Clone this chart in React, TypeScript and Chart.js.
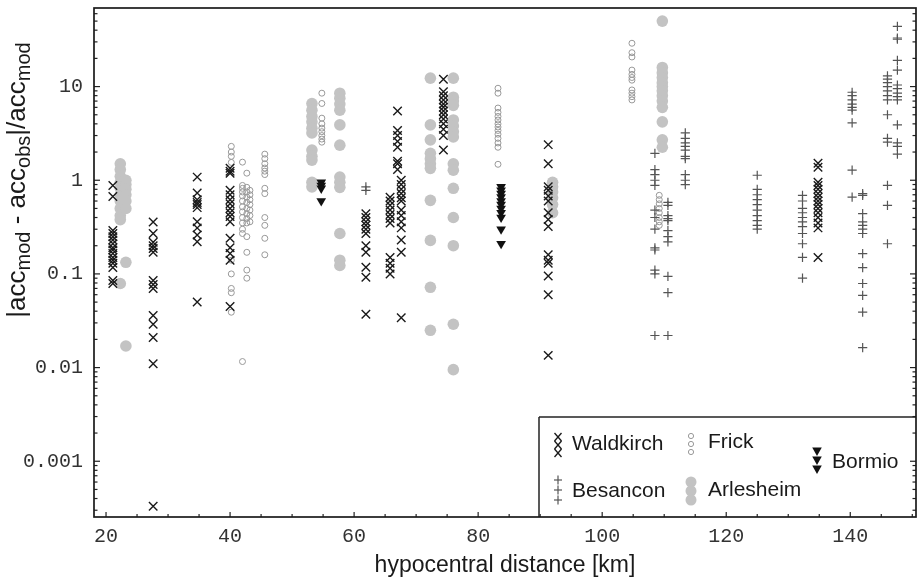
import React, { useEffect, useRef } from 'react';
import { Chart, registerables } from 'chart.js';

Chart.register(...registerables);

// axis ranges
const X_MIN = 18.06;
const X_MAX = 150.6;
const Y_MIN = 2.54e-4;
const Y_MAX = 69;

const X_TICKS = [20, 25, 30, 35, 40, 45, 50, 55, 60, 65, 70, 75, 80, 85, 90, 95, 100, 105, 110, 115, 120, 125, 130, 135, 140, 145, 150];
const X_LABELED = [20, 40, 60, 80, 100, 120, 140];
const Y_DECADES = [0.001, 0.01, 0.1, 1, 10];
const Y_LABELS = ['0.001', '0.01', '0.1', '1', '10'];

type Col = [number, number[]];

// [distance, values at that distance]
const waldkirch: Col[] = [
  [21.1, [0.88, 0.67, 0.29, 0.27, 0.25, 0.23, 0.21, 0.19, 0.18, 0.165, 0.15, 0.14, 0.13, 0.117, 0.085, 0.079]],
  [27.6, [0.358, 0.27, 0.218, 0.2, 0.187, 0.17, 0.085, 0.077, 0.07, 0.036, 0.029, 0.021, 0.011, 0.00033]],
  [34.7, [1.08, 0.73, 0.62, 0.58, 0.55, 0.51, 0.36, 0.31, 0.26, 0.22, 0.05]],
  [40.0, [1.34, 1.25, 1.19, 0.78, 0.7, 0.62, 0.56, 0.5, 0.45, 0.41, 0.36, 0.24, 0.19, 0.165, 0.14, 0.045]],
  [61.9, [0.44, 0.4, 0.36, 0.33, 0.3, 0.27, 0.2, 0.17, 0.118, 0.092, 0.037]],
  [65.8, [0.66, 0.6, 0.54, 0.48, 0.43, 0.39, 0.35, 0.15, 0.13, 0.115, 0.1]],
  [67.0, [5.5, 3.4, 3.0, 2.6, 2.25, 1.6, 1.5, 1.3]],
  [67.6, [1.0, 0.9, 0.8, 0.72, 0.65, 0.6, 0.48, 0.42, 0.36, 0.31, 0.23, 0.17, 0.034]],
  [74.4, [12, 8.8, 8.0, 7.2, 6.5, 6.0, 5.5, 5.0, 4.5, 4.0, 3.5, 3.0, 2.1]],
  [91.3, [2.4, 1.5, 0.85, 0.78, 0.68, 0.6, 0.45, 0.38, 0.32, 0.16, 0.14, 0.13, 0.095, 0.06, 0.0135]],
  [134.8, [1.52, 1.38, 0.95, 0.88, 0.8, 0.72, 0.66, 0.6, 0.55, 0.5, 0.45, 0.4, 0.35, 0.31, 0.15]],
];

const besancon: Col[] = [
  [61.9, [0.85, 0.78]],
  [108.5, [1.94, 1.3, 1.15, 1.0, 0.88, 0.48, 0.4, 0.3, 0.19, 0.18, 0.11, 0.1, 0.022]],
  [110.6, [0.58, 0.54, 0.42, 0.39, 0.37, 0.29, 0.25, 0.22, 0.094, 0.063, 0.022]],
  [113.4, [3.2, 2.8, 2.5, 2.3, 2.1, 1.8, 1.7, 1.15, 1.0, 0.9]],
  [125.0, [1.13, 0.8, 0.7, 0.62, 0.55, 0.48, 0.42, 0.37, 0.33, 0.3]],
  [132.3, [0.69, 0.6, 0.5, 0.45, 0.4, 0.36, 0.32, 0.27, 0.21, 0.15, 0.09]],
  [140.3, [8.7, 8.0, 7.2, 6.5, 6.0, 5.6, 4.1, 1.28, 0.66]],
  [142.0, [0.72, 0.69, 0.44, 0.36, 0.33, 0.3, 0.27, 0.165, 0.117, 0.079, 0.059, 0.039, 0.0163]],
  [146.0, [13, 12, 11, 10, 9, 8, 7.2, 5, 2.8, 2.55, 0.88, 0.54, 0.21]],
  [147.6, [44, 33, 32, 19, 15, 10.4, 9.5, 8.5, 7.8, 7.2, 3.9, 2.5, 2.3, 1.9]],
];

const frick: Col[] = [
  [40.2, [2.3, 2.0, 1.8, 1.55, 0.14, 0.1, 0.07, 0.063, 0.039]],
  [42.0, [1.56, 0.88, 0.82, 0.75, 0.68, 0.6, 0.52, 0.46, 0.4, 0.35, 0.3, 0.27, 0.0116]],
  [42.7, [1.19, 0.84, 0.75, 0.66, 0.58, 0.5, 0.44, 0.39, 0.35, 0.25, 0.17, 0.11, 0.09]],
  [43.2, [0.78, 0.7, 0.62, 0.55, 0.48, 0.42, 0.36]],
  [45.6, [1.9, 1.7, 1.5, 1.35, 1.25, 1.15, 0.82, 0.72, 0.4, 0.33, 0.24, 0.16]],
  [54.8, [8.5, 6.6, 4.6, 4.0, 3.6, 3.3, 3.0, 2.75, 2.55]],
  [83.2, [9.6, 8.5, 5.9, 5.3, 4.8, 4.4, 4.0, 3.7, 3.4, 3.1, 2.8, 2.5, 2.25, 1.48]],
  [104.8, [29, 23, 20.7, 15, 13.5, 12.5, 11.7, 9.2, 8.5, 7.8, 7.2]],
  [109.2, [0.69, 0.62, 0.56, 0.5, 0.45, 0.4, 0.36, 0.33]],
];

const arlesheim: Col[] = [
  [22.3, [1.5, 1.3, 1.1, 0.95, 0.82, 0.7, 0.6, 0.5, 0.42, 0.38, 0.079]],
  [23.2, [1.0, 0.9, 0.8, 0.7, 0.6, 0.5, 0.133, 0.017]],
  [53.2, [6.6, 5.6, 4.8, 4.2, 3.6, 3.2, 2.1, 1.8, 1.64, 0.95, 0.85]],
  [57.7, [8.5, 7.5, 6.5, 5.6, 3.9, 2.37, 1.08, 0.95, 0.84, 0.27, 0.14, 0.123]],
  [72.3, [12.3, 3.9, 2.7, 1.94, 1.7, 1.5, 1.34, 0.61, 0.228, 0.072, 0.025]],
  [76.0, [12.3, 7.7, 7.0, 6.3, 4.4, 3.8, 3.3, 2.9, 1.5, 1.28, 0.82, 0.4, 0.2, 0.029, 0.0095]],
  [92.0, [0.95, 0.85, 0.75, 0.65, 0.55, 0.45]],
  [109.7, [50, 16, 14, 12.5, 11, 10, 9, 8, 7, 6, 4.2, 2.7, 2.25]],
];

const bormio: Col[] = [
  [54.7, [0.95, 0.88, 0.82, 0.6]],
  [83.7, [0.85, 0.78, 0.72, 0.66, 0.6, 0.55, 0.5, 0.45, 0.4, 0.3, 0.21]],
];

const toPoints = (cols: Col[]) => cols.flatMap(([x, ys]) => ys.map((y) => ({ x, y })));

const MONO = "'Liberation Mono', 'DejaVu Sans Mono', monospace";
const SANS = "'Liberation Sans', Arial, sans-serif";

const isDecade = (v: number) => Math.abs(Math.log10(v) - Math.round(Math.log10(v))) < 1e-9;

function yTickValues(): number[] {
  const out: number[] = [];
  for (let e = -4; e <= 1; e++) {
    for (let m = 1; m <= 9; m++) {
      const v = Number((m * Math.pow(10, e)).toPrecision(3));
      if (v >= Y_MIN && v <= Y_MAX) out.push(v);
    }
  }
  return out;
}

function line(ctx: CanvasRenderingContext2D, x1: number, y1: number, x2: number, y2: number) {
  ctx.beginPath();
  ctx.moveTo(x1, y1);
  ctx.lineTo(x2, y2);
  ctx.stroke();
}

const overlay = {
  id: 'overlay',
  afterDraw(chart: any) {
    const { ctx, chartArea: a, scales } = chart;
    const xs = scales.x;
    const ys = scales.y;
    ctx.save();

    // legend box
    const lx = a.right - 377;
    const ly = a.bottom - 100;
    ctx.fillStyle = '#fff';
    ctx.fillRect(lx, ly, a.right - lx, a.bottom - ly);
    ctx.strokeStyle = '#222';
    ctx.lineWidth = 1.5;
    line(ctx, lx, ly, a.right, ly);
    line(ctx, lx, ly, lx, a.bottom);

    // legend markers
    const mx1 = lx + 19;
    const mx2 = lx + 152;
    const mx3 = lx + 278;
    // Waldkirch x
    ctx.strokeStyle = '#1a1a1a';
    ctx.lineWidth = 1.4;
    [ly + 20, ly + 28, ly + 36].forEach((cy) => {
      line(ctx, mx1 - 3.5, cy - 4, mx1 + 3.5, cy + 4);
      line(ctx, mx1 + 3.5, cy - 4, mx1 - 3.5, cy + 4);
    });
    // Besancon +
    ctx.strokeStyle = '#555';
    ctx.lineWidth = 1.2;
    [ly + 63, ly + 73, ly + 83].forEach((cy) => {
      line(ctx, mx1 - 4, cy, mx1 + 4, cy);
      line(ctx, mx1, cy - 4.5, mx1, cy + 4.5);
    });
    // Frick o
    ctx.strokeStyle = '#999';
    ctx.lineWidth = 1;
    [ly + 19, ly + 27, ly + 35].forEach((cy) => {
      ctx.beginPath();
      ctx.arc(mx2, cy, 2.6, 0, Math.PI * 2);
      ctx.stroke();
    });
    // Arlesheim filled
    ctx.fillStyle = '#c3c3c3';
    [ly + 65, ly + 74, ly + 83].forEach((cy) => {
      ctx.beginPath();
      ctx.arc(mx2, cy, 5.5, 0, Math.PI * 2);
      ctx.fill();
    });
    // Bormio triangles
    ctx.fillStyle = '#111';
    [ly + 34, ly + 43, ly + 52].forEach((cy) => {
      ctx.beginPath();
      ctx.moveTo(mx3 - 4.8, cy - 3.5);
      ctx.lineTo(mx3 + 4.8, cy - 3.5);
      ctx.lineTo(mx3, cy + 5);
      ctx.closePath();
      ctx.fill();
    });

    // legend text
    ctx.fillStyle = '#1a1a1a';
    ctx.font = `21px ${SANS}`;
    ctx.textAlign = 'left';
    ctx.textBaseline = 'middle';
    ctx.fillText('Waldkirch', lx + 33, ly + 27);
    ctx.fillText('Besancon', lx + 33, ly + 74);
    ctx.fillText('Frick', lx + 169, ly + 25);
    ctx.fillText('Arlesheim', lx + 169, ly + 73);
    ctx.fillText('Bormio', lx + 293, ly + 45);

    // inward ticks
    ctx.strokeStyle = '#222';
    ctx.lineWidth = 1.2;
    ys.ticks.forEach((t: any) => {
      const p = ys.getPixelForValue(t.value);
      if (p < a.top - 0.5 || p > a.bottom + 0.5) return;
      const L = isDecade(t.value) ? 6 : 3.5;
      line(ctx, a.left, p, a.left + L, p);
      line(ctx, a.right, p, a.right - L, p);
    });
    xs.ticks.forEach((t: any) => {
      const p = xs.getPixelForValue(t.value);
      const L = t.value % 20 === 0 ? 5 : 3;
      line(ctx, p, a.bottom, p, a.bottom - L);
    });

    // frame
    ctx.lineWidth = 1.7;
    ctx.strokeStyle = '#1a1a1a';
    ctx.strokeRect(a.left, a.top, a.right - a.left, a.bottom - a.top);

    // y title with subscripts
    const parts: [string, boolean][] = [
      ['|acc', false], ['mod', true], [' - acc', false], ['obs', true], ['|/acc', false], ['mod', true],
    ];
    const mainFont = `26px ${SANS}`;
    const subFont = `20px ${SANS}`;
    let total = 0;
    parts.forEach(([s, sub]) => {
      ctx.font = sub ? subFont : mainFont;
      total += ctx.measureText(s).width;
    });
    const cx = 18;
    const cy = 180;
    ctx.translate(cx, cy);
    ctx.rotate(-Math.PI / 2);
    let pos = -total / 2;
    ctx.fillStyle = '#1a1a1a';
    ctx.textAlign = 'left';
    ctx.textBaseline = 'alphabetic';
    parts.forEach(([s, sub]) => {
      ctx.font = sub ? subFont : mainFont;
      ctx.fillText(s, pos, sub ? 12 : 7);
      pos += ctx.measureText(s).width;
    });

    ctx.restore();
  },
};

export default function App() {
  const ref = useRef<HTMLCanvasElement | null>(null);

  useEffect(() => {
    if (!ref.current) return;
    const chart = new Chart(ref.current, {
      type: 'scatter',
      data: {
        datasets: [
          {
            label: 'Waldkirch',
            data: toPoints(waldkirch),
            pointStyle: 'crossRot',
            pointRadius: 6,
            borderColor: '#1a1a1a',
            backgroundColor: '#1a1a1a',
            borderWidth: 1.4,
            order: 1,
          },
          {
            label: 'Besancon',
            data: toPoints(besancon),
            pointStyle: 'cross',
            pointRadius: 4.6,
            borderColor: '#555',
            backgroundColor: '#555',
            borderWidth: 1.2,
            order: 2,
          },
          {
            label: 'Frick',
            data: toPoints(frick),
            pointStyle: 'circle',
            pointRadius: 3,
            borderColor: '#999',
            backgroundColor: 'rgba(255,255,255,0)',
            borderWidth: 1,
            order: 3,
          },
          {
            label: 'Arlesheim',
            data: toPoints(arlesheim),
            pointStyle: 'circle',
            pointRadius: 5.8,
            borderColor: '#c3c3c3',
            backgroundColor: '#c3c3c3',
            borderWidth: 0,
            order: 5,
          },
          {
            label: 'Bormio',
            data: toPoints(bormio),
            pointStyle: 'triangle',
            pointRadius: 5.6,
            pointRotation: 180,
            borderColor: '#111',
            backgroundColor: '#111',
            borderWidth: 0,
            order: 4,
          },
        ] as any,
      },
      options: {
        animation: false,
        responsive: false,
        events: [],
        layout: { autoPadding: false, padding: { top: 8, right: 2, left: 0, bottom: 0 } },
        plugins: { legend: { display: false }, tooltip: { enabled: false } },
        scales: {
          x: {
            type: 'linear',
            position: 'bottom',
            min: X_MIN,
            max: X_MAX,
            grid: { display: false, drawTicks: false },
            border: { display: false },
            afterBuildTicks: (s: any) => {
              s.ticks = X_TICKS.map((v) => ({ value: v }));
            },
            afterFit: (s: any) => {
              s.height = 66;
              s.paddingLeft = 0;
              s.paddingRight = 0;
            },
            ticks: {
              autoSkip: false,
              maxRotation: 0,
              padding: 8,
              color: '#333',
              font: { family: MONO, size: 20 },
              callback: (v: any) => (X_LABELED.includes(Number(v)) ? String(v) : ''),
            },
            title: {
              display: true,
              text: 'hypocentral distance [km]',
              color: '#1a1a1a',
              font: { family: SANS, size: 23 },
              padding: { top: 0, bottom: 4 },
            },
          },
          y: {
            type: 'logarithmic',
            min: Y_MIN,
            max: Y_MAX,
            grid: { display: false, drawTicks: false },
            border: { display: false },
            afterBuildTicks: (s: any) => {
              s.ticks = yTickValues().map((v) => ({ value: v }));
            },
            afterFit: (s: any) => {
              s.width = 94;
              s.paddingTop = 0;
              s.paddingBottom = 0;
            },
            ticks: {
              autoSkip: false,
              padding: 11,
              color: '#333',
              font: { family: MONO, size: 20 },
              callback: (v: any) => {
                const i = Y_DECADES.findIndex((d) => Math.abs(d - Number(v)) / d < 1e-6);
                return i >= 0 ? Y_LABELS[i] : '';
              },
            },
          },
        },
      } as any,
      plugins: [overlay],
    });
    return () => chart.destroy();
  }, []);

  return (
    <div style={{ position: 'absolute', left: 0, top: 0, width: 918, height: 583, background: '#fff' }}>
      <canvas ref={ref} width={918} height={583} style={{ display: 'block' }} />
    </div>
  );
}
